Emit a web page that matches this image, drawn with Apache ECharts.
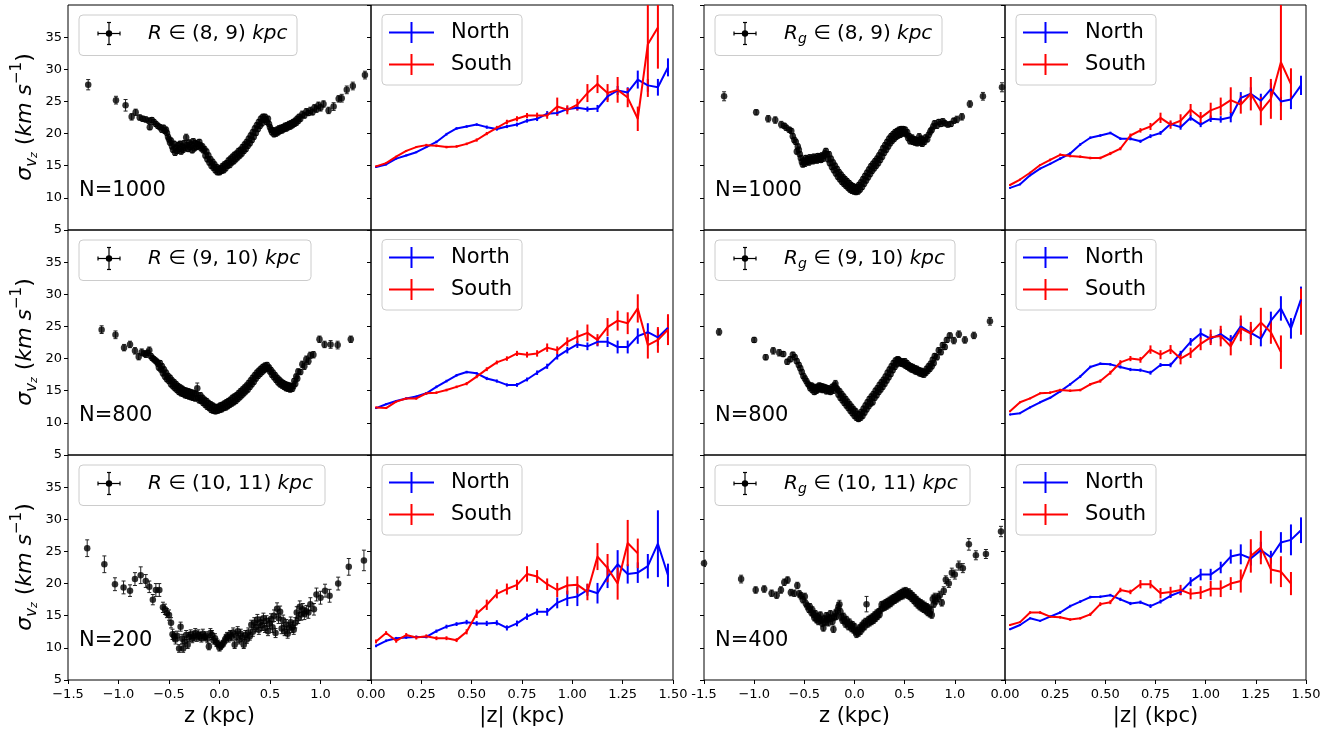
<!DOCTYPE html>
<html><head><meta charset="utf-8">
<script src="https://cdn.jsdelivr.net/npm/echarts@6/dist/echarts.min.js"></script>
<style>html,body{margin:0;padding:0;background:#fff}#c{width:1342px;height:734px}</style>
</head><body><div id="c"></div>
<script>
// ---------- DATA ----------
const yTicks = [5, 10, 15, 20, 25, 30, 35, 40];
const zTicks = [-1.5, -1.0, -0.5, 0.0, 0.5, 1.0, 1.5];
const absZTicks = [0, 0.25, 0.5, 0.75, 1.0, 1.25, 1.5];
const binLabelsR = ['(8, 9)', '(9, 10)', '(10, 11)'];
const binLabelsRg = ['(8, 9)', '(9, 10)', '(10, 11)'];
const nR = [1000, 800, 200];
const nRg = [1000, 800, 400];

// left-hand panels: [z, sigma, err]
const A1 = [[-1.30,27.6,0.8],[-1.025,25.2,0.6],[-0.93,24.4,0.9],[-0.87,22.6,0.5],[-0.83,23.3,0.5],[-0.79,22.5,0.4],[-0.76,22.3,0.4],[-0.73,22.2,0.4],[-0.70,22.0,0.4],[-0.69,21.0,0.4],[-0.67,22.1,0.4],[-0.65,21.8,0.4],[-0.63,21.5,0.4],[-0.61,21.2,0.4],[-0.59,21.0,0.4],[-0.57,20.6,0.4],[-0.555,20.9,0.4],[-0.54,20.4,0.4],[-0.53,20.6,0.4],[-0.52,20.1,0.4],[-0.51,19.5,0.4],[-0.50,19.1,0.4],[-0.49,18.6,0.4],[-0.48,18.9,0.4],[-0.47,18.0,0.4],[-0.46,17.5,0.4],[-0.45,18.4,0.4],[-0.44,17.0,0.4],[-0.43,17.8,0.4],[-0.42,17.3,0.4],[-0.41,18.2,0.4],[-0.40,17.6,0.4],[-0.39,18.4,0.4],[-0.38,17.2,0.4],[-0.37,18.0,0.4],[-0.36,17.5,0.4],[-0.35,18.5,0.4],[-0.34,17.8,0.4],[-0.33,19.4,0.5],[-0.32,18.2,0.4],[-0.31,17.6,0.4],[-0.30,18.6,0.4],[-0.29,17.9,0.4],[-0.28,18.3,0.4],[-0.27,17.4,0.4],[-0.26,18.8,0.4],[-0.25,17.7,0.4],[-0.24,18.5,0.4],[-0.23,17.9,0.4],[-0.22,18.4,0.4],[-0.21,18.0,0.4],[-0.20,18.7,0.4],[-0.19,18.2,0.4],[-0.18,17.7,0.4],[-0.17,18.0,0.4],[-0.16,17.4,0.4],[-0.15,17.6,0.4],[-0.14,16.6,0.4],[-0.13,17.2,0.4],[-0.12,16.0,0.4],[-0.11,16.6,0.4],[-0.10,15.5,0.4],[-0.09,16.0,0.4],[-0.08,15.0,0.4],[-0.07,15.6,0.4],[-0.06,14.7,0.4],[-0.05,15.2,0.4],[-0.04,14.3,0.4],[-0.03,14.8,0.4],[-0.02,14.0,0.4],[-0.01,14.5,0.4],[0.00,14.0,0.4],[0.01,14.6,0.4],[0.02,14.2,0.4],[0.03,14.9,0.4],[0.04,14.3,0.4],[0.05,15.2,0.4],[0.06,14.6,0.4],[0.07,15.4,0.4],[0.08,15.0,0.4],[0.09,15.8,0.4],[0.10,15.1,0.4],[0.11,16.1,0.4],[0.12,15.5,0.4],[0.13,16.4,0.4],[0.14,15.7,0.4],[0.15,16.7,0.4],[0.16,16.0,0.4],[0.17,16.9,0.4],[0.18,16.3,0.4],[0.19,17.3,0.4],[0.20,16.6,0.4],[0.21,17.5,0.4],[0.22,16.9,0.4],[0.23,17.9,0.4],[0.24,17.3,0.4],[0.25,18.3,0.4],[0.26,17.6,0.4],[0.27,18.7,0.4],[0.28,18.1,0.4],[0.29,19.2,0.4],[0.30,18.5,0.4],[0.31,19.7,0.4],[0.32,19.0,0.4],[0.33,20.2,0.4],[0.34,19.5,0.4],[0.35,20.8,0.4],[0.36,20.1,0.4],[0.37,21.3,0.4],[0.38,20.7,0.4],[0.39,21.8,0.4],[0.40,21.2,0.4],[0.41,22.3,0.4],[0.42,21.6,0.4],[0.43,22.6,0.4],[0.44,22.1,0.4],[0.45,22.6,0.4],[0.46,22.2,0.4],[0.47,21.8,0.4],[0.48,22.3,0.4],[0.49,21.5,0.4],[0.50,21.0,0.4],[0.51,20.6,0.4],[0.52,20.2,0.4],[0.53,20.5,0.4],[0.54,19.9,0.4],[0.55,20.3,0.4],[0.56,20.0,0.4],[0.57,20.6,0.4],[0.58,20.2,0.4],[0.59,20.8,0.4],[0.60,20.4,0.4],[0.61,20.9,0.4],[0.62,20.5,0.4],[0.63,21.0,0.4],[0.64,20.7,0.4],[0.65,21.2,0.4],[0.66,20.8,0.4],[0.67,21.3,0.4],[0.68,21.0,0.4],[0.69,21.5,0.4],[0.70,21.1,0.4],[0.71,21.6,0.4],[0.72,21.3,0.4],[0.73,21.8,0.4],[0.74,21.5,0.4],[0.75,22.0,0.4],[0.76,21.7,0.4],[0.77,22.3,0.4],[0.78,22.0,0.4],[0.79,22.6,0.4],[0.80,22.3,0.4],[0.82,23.0,0.5],[0.84,22.8,0.4],[0.86,23.4,0.5],[0.88,23.2,0.4],[0.90,23.6,0.5],[0.92,23.3,0.4],[0.94,24.0,0.5],[0.96,23.8,0.5],[0.98,24.4,0.5],[1.00,24.0,0.5],[1.03,24.6,0.5],[1.08,23.6,0.5],[1.13,24.2,0.6],[1.18,25.4,0.5],[1.21,25.5,0.6],[1.26,26.8,0.6],[1.32,27.4,0.6],[1.44,29.1,0.6]];

const A2 = [[-1.167,24.5,0.6],[-1.03,23.7,0.6],[-0.945,21.7,0.5],[-0.886,22.2,0.5],[-0.837,21.2,0.5],[-0.80,20.3,0.5],[-0.77,21.0,0.5],[-0.745,20.8,0.4],[-0.728,20.6,0.4],[-0.71,20.9,0.4],[-0.695,21.3,0.5],[-0.68,20.4,0.4],[-0.665,20.1,0.4],[-0.65,19.9,0.4],[-0.635,19.7,0.4],[-0.62,19.5,0.4],[-0.61,19.2,0.4],[-0.60,18.6,0.4],[-0.59,19.3,0.4],[-0.58,18.3,0.4],[-0.57,18.8,0.4],[-0.56,17.7,0.4],[-0.55,18.3,0.4],[-0.54,17.2,0.4],[-0.53,17.8,0.4],[-0.52,16.8,0.4],[-0.51,17.3,0.4],[-0.50,16.5,0.4],[-0.49,17.0,0.4],[-0.48,16.0,0.4],[-0.47,16.6,0.4],[-0.46,15.7,0.4],[-0.45,16.3,0.4],[-0.44,15.4,0.4],[-0.43,16.0,0.4],[-0.42,15.1,0.4],[-0.41,15.7,0.4],[-0.40,14.8,0.4],[-0.39,15.5,0.4],[-0.38,14.6,0.4],[-0.37,15.3,0.4],[-0.36,14.5,0.4],[-0.35,15.1,0.4],[-0.34,14.3,0.4],[-0.33,15.0,0.4],[-0.32,14.2,0.4],[-0.31,14.9,0.4],[-0.30,14.1,0.4],[-0.29,14.8,0.4],[-0.28,14.0,0.4],[-0.27,14.7,0.4],[-0.26,13.9,0.4],[-0.25,14.6,0.4],[-0.24,13.8,0.4],[-0.23,14.5,0.4],[-0.22,15.4,0.8],[-0.21,13.9,0.4],[-0.20,13.5,0.4],[-0.19,14.3,0.4],[-0.18,13.4,0.4],[-0.17,13.9,0.4],[-0.16,13.1,0.4],[-0.15,13.6,0.4],[-0.14,12.8,0.4],[-0.13,13.4,0.4],[-0.12,12.5,0.4],[-0.11,13.1,0.4],[-0.10,12.3,0.4],[-0.09,12.9,0.4],[-0.08,12.0,0.4],[-0.07,12.7,0.4],[-0.06,11.9,0.4],[-0.05,12.5,0.4],[-0.04,11.8,0.4],[-0.03,12.4,0.4],[-0.02,11.9,0.4],[-0.01,12.5,0.4],[0.00,12.0,0.4],[0.01,12.7,0.4],[0.02,12.1,0.4],[0.03,12.8,0.4],[0.04,12.3,0.4],[0.05,13.0,0.4],[0.06,12.4,0.4],[0.07,13.2,0.4],[0.08,12.6,0.4],[0.09,13.4,0.4],[0.10,12.8,0.4],[0.11,13.6,0.4],[0.12,13.0,0.4],[0.13,13.9,0.4],[0.14,13.2,0.4],[0.15,14.1,0.4],[0.16,13.4,0.4],[0.17,14.3,0.4],[0.18,13.7,0.4],[0.19,14.6,0.4],[0.20,14.0,0.4],[0.21,14.9,0.4],[0.22,14.3,0.4],[0.23,15.2,0.4],[0.24,14.6,0.4],[0.25,15.5,0.4],[0.26,14.9,0.4],[0.27,15.8,0.4],[0.28,15.2,0.4],[0.29,16.2,0.4],[0.30,15.6,0.4],[0.31,16.6,0.4],[0.32,16.0,0.4],[0.33,17.0,0.4],[0.34,16.4,0.4],[0.35,17.4,0.4],[0.36,16.9,0.4],[0.37,17.8,0.4],[0.38,17.3,0.4],[0.39,18.1,0.4],[0.40,17.6,0.4],[0.41,18.4,0.4],[0.42,17.9,0.4],[0.43,18.7,0.4],[0.44,18.2,0.4],[0.45,18.9,0.4],[0.46,18.4,0.4],[0.47,19.0,0.4],[0.48,18.5,0.4],[0.49,18.6,0.4],[0.50,18.0,0.4],[0.51,18.2,0.4],[0.52,17.5,0.4],[0.53,17.8,0.4],[0.54,17.1,0.4],[0.55,17.4,0.4],[0.56,16.7,0.4],[0.57,17.0,0.4],[0.58,16.3,0.4],[0.59,16.7,0.4],[0.60,16.0,0.4],[0.61,16.4,0.4],[0.62,15.8,0.4],[0.63,16.2,0.4],[0.64,15.6,0.4],[0.65,16.0,0.4],[0.66,15.4,0.4],[0.67,15.9,0.4],[0.68,15.3,0.4],[0.69,15.8,0.4],[0.70,15.2,0.4],[0.71,15.7,0.4],[0.72,15.3,0.4],[0.73,15.7,0.4],[0.74,16.5,0.4],[0.75,16.1,0.4],[0.76,17.2,0.4],[0.77,16.9,0.4],[0.78,18.0,0.4],[0.80,17.9,0.4],[0.82,19.1,0.5],[0.84,18.8,0.5],[0.86,19.9,0.5],[0.88,19.6,0.5],[0.90,20.5,0.5],[0.93,20.6,0.5],[0.99,23.0,0.5],[1.04,22.2,0.5],[1.10,22.2,0.6],[1.17,22.1,0.6],[1.30,23.0,0.5]];

const A3 = [[-1.31,25.5,1.3],[-1.14,23.0,1.3],[-1.035,19.9,1.0],[-0.95,19.4,1.0],[-0.886,18.9,0.9],[-0.837,20.7,1.0],[-0.78,21.3,1.3],[-0.73,20.4,1.0],[-0.695,19.5,0.9],[-0.66,17.5,0.8],[-0.63,19.0,1.0],[-0.596,19.0,1.0],[-0.56,16.3,0.8],[-0.54,16.0,0.8],[-0.52,15.4,0.7],[-0.50,15.1,0.8],[-0.48,13.9,0.8],[-0.465,12.1,0.8],[-0.45,11.8,0.7],[-0.435,11.3,0.7],[-0.42,11.9,0.7],[-0.40,9.9,0.6],[-0.385,13.3,0.7],[-0.37,11.4,0.7],[-0.36,9.9,0.6],[-0.345,11.0,0.7],[-0.33,12.0,0.7],[-0.315,10.5,0.6],[-0.30,11.7,0.7],[-0.285,12.1,0.7],[-0.27,11.4,0.6],[-0.255,11.8,0.7],[-0.24,12.3,0.7],[-0.225,11.6,0.6],[-0.21,12.1,0.7],[-0.195,11.8,0.6],[-0.18,11.5,0.6],[-0.165,12.2,0.7],[-0.15,11.7,0.6],[-0.135,11.9,0.6],[-0.12,11.4,0.6],[-0.105,10.2,0.5],[-0.09,12.3,0.7],[-0.075,12.0,0.7],[-0.06,11.2,0.6],[-0.045,11.5,0.7],[-0.03,10.8,0.6],[-0.015,10.6,0.6],[0.00,10.0,0.5],[0.015,10.3,0.5],[0.03,10.6,0.5],[0.045,10.9,0.6],[0.06,11.4,0.6],[0.075,11.8,0.6],[0.09,11.5,0.6],[0.105,12.1,0.6],[0.12,11.7,0.6],[0.135,12.4,0.7],[0.15,10.5,0.6],[0.165,11.9,0.6],[0.18,12.6,0.7],[0.195,11.2,0.6],[0.21,12.2,0.7],[0.225,11.6,0.6],[0.24,10.5,0.6],[0.255,12.0,0.7],[0.27,11.3,0.6],[0.285,12.4,0.7],[0.30,11.8,0.6],[0.315,13.6,0.7],[0.33,12.5,0.7],[0.345,13.9,0.8],[0.36,13.2,0.7],[0.375,14.4,0.8],[0.39,12.8,0.7],[0.405,14.0,0.8],[0.42,13.5,0.8],[0.435,14.6,0.8],[0.45,13.1,0.7],[0.465,14.2,0.8],[0.48,12.6,0.7],[0.495,13.8,0.8],[0.51,14.5,0.8],[0.525,13.2,0.8],[0.54,15.0,0.9],[0.555,12.3,0.7],[0.57,16.1,0.9],[0.585,14.6,0.8],[0.60,15.6,0.9],[0.615,13.0,0.8],[0.63,14.3,0.8],[0.645,12.6,0.7],[0.66,13.6,0.8],[0.675,12.2,0.7],[0.69,13.1,0.8],[0.705,14.0,0.8],[0.72,13.2,0.8],[0.735,12.8,0.7],[0.75,13.9,0.8],[0.765,15.5,0.9],[0.78,14.6,0.8],[0.795,16.4,0.9],[0.81,15.2,0.9],[0.825,16.0,0.9],[0.84,15.3,0.9],[0.86,15.7,0.9],[0.88,15.5,0.9],[0.90,16.8,1.0],[0.935,16.0,0.9],[0.96,18.3,1.0],[1.00,17.8,1.0],[1.045,18.9,1.0],[1.09,18.1,1.0],[1.175,20.0,1.0],[1.28,22.6,1.3],[1.43,23.6,1.6]];

const C1 = [[-1.30,25.8,0.7],[-0.98,23.3,0.4],[-0.86,22.3,0.5],[-0.79,22.1,0.5],[-0.73,21.4,0.5],[-0.70,21.2,0.4],[-0.68,20.9,0.4],[-0.65,20.6,0.4],[-0.63,20.4,0.4],[-0.615,19.6,0.4],[-0.60,19.0,0.4],[-0.585,18.7,0.4],[-0.575,17.2,0.4],[-0.565,18.0,0.4],[-0.555,17.5,0.4],[-0.545,16.8,0.4],[-0.535,16.2,0.4],[-0.525,15.6,0.4],[-0.515,15.2,0.4],[-0.505,15.8,0.4],[-0.495,15.3,0.4],[-0.485,16.2,0.4],[-0.475,15.6,0.4],[-0.465,16.0,0.4],[-0.455,15.5,0.4],[-0.445,16.3,0.4],[-0.435,15.8,0.4],[-0.425,16.1,0.4],[-0.415,15.7,0.4],[-0.405,16.4,0.4],[-0.395,15.9,0.4],[-0.385,16.2,0.4],[-0.375,15.8,0.4],[-0.365,16.5,0.4],[-0.355,16.0,0.4],[-0.345,16.4,0.4],[-0.335,15.9,0.4],[-0.325,16.6,0.4],[-0.315,16.1,0.4],[-0.305,16.5,0.4],[-0.295,16.9,0.4],[-0.285,17.3,0.4],[-0.275,16.8,0.4],[-0.265,16.0,0.4],[-0.255,16.8,0.4],[-0.245,15.4,0.4],[-0.235,16.1,0.4],[-0.225,14.8,0.4],[-0.215,15.5,0.4],[-0.205,14.3,0.4],[-0.195,15.0,0.4],[-0.185,13.8,0.4],[-0.175,14.5,0.4],[-0.165,13.3,0.4],[-0.155,14.0,0.4],[-0.145,12.9,0.4],[-0.135,13.6,0.4],[-0.125,12.5,0.4],[-0.115,13.2,0.4],[-0.105,12.2,0.4],[-0.095,12.9,0.4],[-0.085,11.9,0.4],[-0.075,12.6,0.4],[-0.065,11.6,0.4],[-0.055,12.3,0.4],[-0.045,11.3,0.4],[-0.035,12.0,0.4],[-0.025,11.1,0.4],[-0.015,11.8,0.4],[-0.005,11.0,0.4],[0.005,11.6,0.4],[0.015,10.9,0.4],[0.025,11.7,0.4],[0.035,11.0,0.4],[0.045,12.0,0.4],[0.055,11.3,0.4],[0.065,12.4,0.4],[0.075,11.7,0.4],[0.085,12.9,0.4],[0.095,12.2,0.4],[0.105,13.4,0.4],[0.115,12.7,0.4],[0.125,13.9,0.4],[0.135,13.2,0.4],[0.145,14.4,0.4],[0.155,13.7,0.4],[0.165,14.9,0.4],[0.175,14.2,0.4],[0.185,15.3,0.4],[0.195,14.6,0.4],[0.205,15.7,0.4],[0.215,15.0,0.4],[0.225,16.1,0.4],[0.235,15.4,0.4],[0.245,16.6,0.4],[0.255,15.9,0.4],[0.265,17.1,0.4],[0.275,16.4,0.4],[0.285,17.7,0.4],[0.295,17.0,0.4],[0.305,18.2,0.4],[0.315,17.5,0.4],[0.325,18.7,0.4],[0.335,18.0,0.4],[0.345,19.2,0.4],[0.355,18.5,0.4],[0.365,19.6,0.4],[0.375,18.9,0.4],[0.385,19.9,0.4],[0.395,19.2,0.4],[0.405,20.2,0.4],[0.415,19.5,0.4],[0.425,20.4,0.4],[0.435,19.7,0.4],[0.445,20.6,0.4],[0.455,19.8,0.4],[0.465,20.7,0.4],[0.475,20.0,0.4],[0.485,20.7,0.4],[0.495,20.1,0.4],[0.505,20.6,0.4],[0.515,19.9,0.4],[0.525,20.2,0.4],[0.535,19.3,0.4],[0.545,19.6,0.4],[0.555,18.8,0.4],[0.565,19.1,0.4],[0.575,19.3,0.5],[0.585,18.7,0.4],[0.595,19.1,0.4],[0.605,18.6,0.4],[0.615,19.0,0.4],[0.625,18.5,0.4],[0.635,18.9,0.4],[0.645,19.5,0.5],[0.655,18.6,0.4],[0.665,19.2,0.4],[0.675,18.4,0.4],[0.685,19.0,0.4],[0.695,18.7,0.4],[0.71,19.4,0.4],[0.725,19.1,0.4],[0.74,19.8,0.4],[0.755,20.3,0.5],[0.77,20.6,0.4],[0.785,21.1,0.4],[0.80,21.6,0.4],[0.82,21.2,0.4],[0.84,21.8,0.4],[0.86,21.5,0.4],[0.88,21.9,0.4],[0.90,21.6,0.4],[0.93,21.4,0.4],[0.96,21.5,0.4],[0.99,22.0,0.4],[1.02,22.2,0.5],[1.07,22.6,0.5],[1.15,24.6,0.5],[1.28,25.8,0.6],[1.47,27.2,0.7]];

const C2 = [[-1.35,24.15,0.5],[-1.00,22.9,0.4],[-0.885,20.2,0.4],[-0.81,21.2,0.5],[-0.75,20.9,0.5],[-0.71,20.7,0.4],[-0.67,19.5,0.4],[-0.64,19.9,0.4],[-0.615,20.6,0.4],[-0.595,20.2,0.4],[-0.575,19.6,0.4],[-0.555,19.0,0.4],[-0.54,18.5,0.4],[-0.525,17.9,0.4],[-0.51,17.3,0.4],[-0.495,16.9,0.4],[-0.48,16.5,0.4],[-0.465,16.1,0.4],[-0.45,15.8,0.4],[-0.44,15.4,0.4],[-0.43,15.8,0.4],[-0.42,15.1,0.4],[-0.41,15.6,0.4],[-0.40,14.8,0.4],[-0.39,15.4,0.4],[-0.38,15.0,0.4],[-0.37,15.6,0.4],[-0.36,15.2,0.4],[-0.35,15.8,0.4],[-0.34,15.3,0.4],[-0.33,15.7,0.4],[-0.32,15.1,0.4],[-0.31,15.6,0.4],[-0.30,15.2,0.4],[-0.29,15.5,0.4],[-0.28,14.9,0.4],[-0.27,15.4,0.4],[-0.26,15.0,0.4],[-0.25,15.3,0.4],[-0.24,14.8,0.4],[-0.23,15.2,0.4],[-0.22,15.6,0.4],[-0.21,15.0,0.4],[-0.20,15.8,0.4],[-0.19,16.1,0.5],[-0.18,15.4,0.4],[-0.17,15.2,0.4],[-0.16,14.4,0.4],[-0.15,14.9,0.4],[-0.14,13.9,0.4],[-0.13,14.5,0.4],[-0.12,13.5,0.4],[-0.11,14.1,0.4],[-0.10,13.1,0.4],[-0.09,13.7,0.4],[-0.08,12.7,0.4],[-0.07,13.3,0.4],[-0.06,12.3,0.4],[-0.05,12.9,0.4],[-0.04,11.9,0.4],[-0.03,12.5,0.4],[-0.02,11.5,0.4],[-0.01,12.1,0.4],[0.00,11.1,0.4],[0.01,11.8,0.4],[0.02,10.8,0.4],[0.03,11.4,0.4],[0.04,10.6,0.4],[0.05,11.3,0.4],[0.06,10.8,0.4],[0.07,11.7,0.4],[0.08,11.1,0.4],[0.09,12.2,0.4],[0.10,11.6,0.4],[0.11,12.7,0.4],[0.12,12.1,0.4],[0.13,13.2,0.4],[0.14,12.6,0.4],[0.15,13.7,0.4],[0.16,13.0,0.4],[0.17,14.1,0.4],[0.18,13.2,0.4],[0.19,14.5,0.4],[0.20,13.9,0.4],[0.21,15.0,0.4],[0.22,14.3,0.4],[0.23,15.4,0.4],[0.24,14.8,0.4],[0.25,15.9,0.4],[0.26,15.2,0.4],[0.27,16.3,0.4],[0.28,15.6,0.4],[0.29,16.7,0.4],[0.30,16.1,0.4],[0.31,17.2,0.4],[0.32,16.6,0.4],[0.33,17.8,0.4],[0.34,17.1,0.4],[0.35,18.3,0.4],[0.36,17.6,0.4],[0.37,18.8,0.4],[0.38,18.2,0.4],[0.39,19.3,0.4],[0.40,18.7,0.4],[0.41,19.7,0.4],[0.42,19.1,0.4],[0.43,19.9,0.4],[0.44,19.8,0.4],[0.45,19.3,0.4],[0.46,19.6,0.4],[0.47,19.2,0.4],[0.48,19.5,0.4],[0.49,19.1,0.4],[0.50,19.6,0.4],[0.51,18.9,0.4],[0.52,19.3,0.4],[0.53,18.7,0.4],[0.54,19.0,0.4],[0.55,18.5,0.4],[0.56,18.8,0.4],[0.57,18.3,0.4],[0.58,18.7,0.4],[0.59,18.2,0.4],[0.60,18.5,0.4],[0.61,18.0,0.4],[0.62,18.4,0.4],[0.63,17.9,0.4],[0.64,18.2,0.4],[0.65,17.7,0.4],[0.66,18.1,0.4],[0.67,17.6,0.4],[0.68,18.0,0.4],[0.69,17.5,0.4],[0.70,17.9,0.4],[0.71,17.8,0.4],[0.72,18.4,0.4],[0.73,18.1,0.4],[0.74,18.8,0.4],[0.75,18.4,0.4],[0.76,19.2,0.4],[0.77,18.8,0.4],[0.78,19.8,0.4],[0.79,19.3,0.4],[0.80,20.4,0.4],[0.82,20.2,0.4],[0.84,21.3,0.4],[0.86,21.0,0.4],[0.88,22.1,0.4],[0.90,21.8,0.4],[0.92,22.9,0.4],[0.95,23.6,0.4],[0.99,22.8,0.5],[1.04,23.8,0.5],[1.10,22.9,0.5],[1.19,23.6,0.5],[1.35,25.8,0.6]];

const C3 = [[-1.50,23.15,0.5],[-1.13,20.7,0.6],[-0.985,19.0,0.5],[-0.90,19.15,0.5],[-0.826,18.5,0.5],[-0.776,18.2,0.5],[-0.733,19.0,0.5],[-0.70,20.2,0.5],[-0.667,20.55,0.5],[-0.634,18.6,0.5],[-0.60,18.5,0.5],[-0.57,19.7,0.5],[-0.55,18.4,0.5],[-0.535,18.1,0.5],[-0.515,17.5,0.5],[-0.495,18.0,0.5],[-0.485,16.9,0.5],[-0.47,16.5,0.5],[-0.455,16.0,0.5],[-0.445,16.4,0.5],[-0.43,15.5,0.5],[-0.42,15.9,0.5],[-0.41,15.2,0.5],[-0.40,14.7,0.5],[-0.39,15.3,0.5],[-0.38,14.4,0.5],[-0.37,14.9,0.5],[-0.36,14.1,0.5],[-0.35,14.6,0.5],[-0.34,15.1,0.5],[-0.33,14.3,0.5],[-0.32,13.8,0.5],[-0.31,13.1,0.5],[-0.30,14.5,0.5],[-0.29,14.0,0.5],[-0.28,15.0,0.5],[-0.27,14.4,0.5],[-0.26,13.9,0.5],[-0.25,14.7,0.5],[-0.24,15.3,0.5],[-0.23,14.6,0.5],[-0.22,14.1,0.5],[-0.21,12.9,0.5],[-0.20,14.8,0.5],[-0.19,15.4,0.5],[-0.18,14.9,0.5],[-0.17,15.8,0.5],[-0.16,16.4,0.6],[-0.15,16.8,0.6],[-0.14,15.6,0.5],[-0.13,14.8,0.5],[-0.12,14.3,0.5],[-0.11,14.9,0.5],[-0.10,14.2,0.5],[-0.09,13.7,0.5],[-0.08,14.4,0.5],[-0.07,13.8,0.5],[-0.06,13.3,0.5],[-0.05,14.0,0.5],[-0.04,13.5,0.5],[-0.03,13.0,0.5],[-0.02,13.6,0.5],[-0.01,12.8,0.5],[0.00,13.3,0.5],[0.01,12.5,0.5],[0.02,12.1,0.5],[0.03,12.7,0.5],[0.04,12.3,0.5],[0.05,13.1,0.5],[0.06,12.6,0.5],[0.07,13.4,0.5],[0.08,13.0,0.5],[0.09,13.8,0.5],[0.10,13.3,0.5],[0.11,14.1,0.5],[0.12,16.8,1.2],[0.13,13.7,0.5],[0.14,14.4,0.5],[0.15,13.9,0.5],[0.16,14.6,0.5],[0.17,14.1,0.5],[0.18,14.8,0.5],[0.19,14.3,0.5],[0.20,15.1,0.5],[0.21,14.6,0.5],[0.22,15.4,0.5],[0.23,14.9,0.5],[0.24,15.6,0.5],[0.25,15.2,0.5],[0.26,15.9,0.5],[0.27,16.7,0.5],[0.28,16.2,0.5],[0.29,16.8,0.5],[0.30,16.3,0.5],[0.31,17.0,0.5],[0.32,16.5,0.5],[0.33,17.2,0.5],[0.34,16.7,0.5],[0.35,17.4,0.5],[0.36,16.9,0.5],[0.37,17.6,0.5],[0.38,17.2,0.5],[0.39,17.8,0.5],[0.40,17.4,0.5],[0.41,18.0,0.5],[0.42,17.6,0.5],[0.43,18.2,0.5],[0.44,17.8,0.5],[0.45,18.4,0.5],[0.46,18.0,0.5],[0.47,18.6,0.5],[0.48,18.1,0.5],[0.49,18.8,0.5],[0.50,18.3,0.5],[0.51,18.9,0.5],[0.52,18.5,0.5],[0.53,18.2,0.5],[0.54,18.7,0.5],[0.55,18.0,0.5],[0.56,18.4,0.5],[0.57,17.7,0.5],[0.58,18.1,0.5],[0.59,17.4,0.5],[0.60,17.8,0.5],[0.61,17.0,0.5],[0.62,17.5,0.5],[0.63,16.7,0.5],[0.64,17.2,0.5],[0.65,16.4,0.5],[0.66,17.0,0.5],[0.67,16.2,0.5],[0.68,16.8,0.5],[0.69,16.0,0.5],[0.70,16.6,0.5],[0.71,15.8,0.5],[0.72,16.4,0.5],[0.73,15.5,0.5],[0.74,16.2,0.5],[0.75,15.3,0.5],[0.76,15.9,0.5],[0.77,15.1,0.5],[0.78,17.6,0.6],[0.79,16.8,0.5],[0.80,17.9,0.6],[0.81,17.3,0.5],[0.83,17.8,0.6],[0.85,18.2,0.6],[0.87,17.0,0.5],[0.89,18.9,0.6],[0.91,20.6,0.6],[0.94,20.0,0.6],[0.97,21.7,0.7],[1.00,21.4,0.7],[1.04,22.8,0.7],[1.08,22.4,0.7],[1.14,26.1,0.9],[1.21,24.4,0.7],[1.31,24.6,0.7],[1.46,28.1,0.8]];

// right-hand panels (|z| bins)
const zAbs = [0.025,0.075,0.125,0.175,0.225,0.275,0.325,0.375,0.425,0.475,0.525,0.575,0.625,0.675,0.725,0.775,0.825,0.875,0.925,0.975,1.025,1.075,1.125,1.175,1.225,1.275,1.325,1.375,1.425,1.475];

const B1N  = [14.8,15.2,16.1,16.6,17.1,17.9,18.7,19.9,20.8,21.1,21.4,21.0,20.7,21.1,21.4,22.0,22.3,23.1,23.2,23.8,24.0,23.8,23.9,25.8,26.7,26.4,28.4,27.5,27.2,30.3];
const B1Ne = [0.15,0.15,0.15,0.15,0.15,0.15,0.2,0.2,0.2,0.2,0.2,0.25,0.25,0.25,0.3,0.3,0.35,0.4,0.4,0.4,0.4,0.4,0.55,0.6,0.7,0.8,1.4,1.0,1.3,1.4];
const B1S  = [14.9,15.4,16.4,17.3,17.9,18.2,18.1,17.9,18.0,18.4,19.0,20.0,20.9,21.8,22.3,22.8,22.8,22.8,24.2,23.7,24.5,26.3,27.7,26.3,26.8,25.6,22.3,33.9,36.5,null];
const B1Se = [0.15,0.15,0.15,0.15,0.15,0.2,0.2,0.2,0.2,0.2,0.25,0.25,0.3,0.35,0.4,0.4,0.45,0.5,1.4,0.7,0.9,1.4,1.4,1.4,2.0,1.5,1.9,8.2,6.4,null];

const B2N  = [12.3,12.9,13.4,13.8,14.1,14.6,15.6,16.5,17.4,17.9,17.7,16.9,16.5,15.9,15.9,16.75,17.8,18.8,20.3,21.3,22.2,21.9,22.6,22.6,21.8,21.8,23.5,24.1,23.3,24.8];
const B2Ne = [0.15,0.15,0.15,0.15,0.15,0.2,0.2,0.2,0.2,0.2,0.2,0.25,0.25,0.25,0.3,0.3,0.35,0.4,0.45,0.5,0.55,0.6,0.7,0.8,1.0,1.0,1.2,1.4,1.3,1.6];
const B2S  = [12.4,12.3,13.3,13.8,13.8,14.6,14.7,15.1,15.6,16.1,17.2,18.35,19.4,20.0,20.8,20.6,20.8,21.7,21.3,22.6,23.4,24.0,22.9,24.9,25.9,25.5,27.8,22.1,22.9,24.5];
const B2Se = [0.15,0.15,0.15,0.15,0.2,0.2,0.2,0.2,0.2,0.25,0.25,0.3,0.3,0.35,0.4,0.45,0.5,0.65,0.6,0.7,1.0,1.3,0.9,1.4,1.55,1.7,2.2,2.1,2.0,2.4];

const B3N  = [10.3,11.1,11.5,11.6,11.7,11.7,12.6,13.3,13.7,14.0,13.8,13.8,13.9,13.1,13.8,14.85,15.6,15.6,17.0,17.7,18.0,19.0,18.5,21.0,23.0,21.5,21.7,22.7,26.2,21.3];
const B3Ne = [0.2,0.2,0.2,0.2,0.2,0.2,0.25,0.3,0.3,0.35,0.35,0.4,0.4,0.4,0.45,0.5,0.5,0.6,0.85,1.2,1.5,0.9,1.6,1.7,2.2,1.5,1.6,1.9,5.2,1.8];
const B3S  = [11.0,12.3,11.1,12.0,11.6,11.8,11.5,11.5,11.2,12.5,15.3,16.7,18.4,19.15,19.8,21.5,21.1,19.9,19.0,19.7,19.8,18.7,24.2,22.4,20.0,26.3,24.7,null,null,null];
const B3Se = [0.3,0.3,0.3,0.3,0.3,0.3,0.3,0.3,0.3,0.4,0.65,0.8,0.7,0.85,0.8,1.2,1.0,0.9,1.1,1.4,1.35,1.3,2.1,2.2,2.5,3.6,2.3,null,null,null];

const D1N  = [11.55,12.1,13.5,14.55,15.3,16.1,16.9,18.3,19.35,19.7,20.1,19.2,19.2,18.8,19.6,20.1,21.5,21.0,22.45,21.4,22.3,22.2,22.55,25.55,26.2,25.1,26.9,25.0,25.3,27.5];
const D1Ne = [0.15,0.15,0.15,0.15,0.15,0.2,0.2,0.2,0.2,0.2,0.2,0.2,0.25,0.25,0.3,0.3,0.35,0.4,0.45,0.4,0.5,0.5,0.8,0.9,1.0,1.1,1.0,0.7,1.5,1.5];
const D1S  = [12.0,12.85,13.9,15.1,15.9,16.7,16.5,16.4,16.2,16.2,16.9,17.65,19.7,20.5,21.1,22.45,21.4,22.0,23.7,22.45,23.6,24.2,25.2,24.5,26.2,23.5,25.4,31.1,27.7,null];
const D1Se = [0.15,0.15,0.15,0.15,0.2,0.2,0.2,0.2,0.2,0.2,0.25,0.25,0.3,0.35,0.55,0.8,0.65,1.0,0.9,0.9,1.2,1.4,2.0,1.4,2.6,2.2,3.1,9.0,2.45,null];

const D2N  = [11.3,11.5,12.4,13.2,13.9,14.9,16.0,17.2,18.7,19.2,19.1,18.7,18.3,18.2,17.8,19.0,19.0,20.8,22.6,23.9,23.1,23.8,22.75,25.0,24.0,23.1,25.9,27.8,24.7,29.2];
const D2Ne = [0.15,0.15,0.15,0.15,0.15,0.2,0.2,0.2,0.2,0.2,0.2,0.25,0.25,0.25,0.3,0.3,0.35,0.4,0.6,0.8,0.7,0.8,0.9,1.2,1.0,1.2,1.4,1.9,1.6,2.0];
const D2S  = [11.8,13.2,13.8,14.6,14.7,15.1,15.0,15.1,16.0,16.5,17.8,19.4,20.0,19.8,21.4,20.6,21.4,20.0,20.9,22.3,23.3,23.5,21.9,24.7,23.9,25.6,24.1,21.0,null,27.3];
const D2Se = [0.15,0.15,0.15,0.15,0.2,0.2,0.2,0.2,0.2,0.25,0.3,0.35,0.4,0.45,0.65,0.7,0.7,0.9,0.8,1.0,1.2,1.6,1.4,2.0,1.8,2.3,1.8,2.6,null,3.6];

const D3N  = [12.9,13.55,14.6,14.2,14.85,15.5,16.5,17.2,17.9,17.95,18.2,17.55,16.9,17.1,16.5,17.2,18.1,18.7,20.3,21.4,21.4,22.5,24.2,24.55,23.9,25.2,24.1,26.4,26.8,28.3];
const D3Ne = [0.15,0.15,0.15,0.15,0.15,0.2,0.2,0.2,0.2,0.2,0.2,0.25,0.25,0.25,0.3,0.3,0.35,0.5,0.7,0.9,0.9,0.9,1.1,1.55,1.1,1.3,1.0,1.6,2.4,2.0];
const D3S  = [13.55,14.0,15.5,15.5,14.85,14.75,14.4,14.6,15.2,16.8,17.1,19.0,18.7,19.9,19.9,18.5,18.7,19.0,18.4,18.6,19.2,19.2,20.0,20.4,24.3,25.6,22.2,21.85,20.0,null];
const D3Se = [0.15,0.15,0.2,0.2,0.2,0.2,0.2,0.2,0.25,0.3,0.3,0.35,0.35,0.65,0.65,0.8,0.8,0.8,0.85,1.0,1.2,1.3,1.0,1.8,2.6,2.6,2.2,2.4,1.8,null];

// ---------- LAYOUT ----------
const FONT = 'DejaVu Sans';
const colLeft = [68, 371, 704, 1005];
const colW = [303, 302, 301, 301];
const rowTop = [5, 230, 455];
const rowH = 225;
const legendWidthR = [218, 232, 246];
const legendWidthRg = [227, 240, 255];

const leftData = [[A1, C1], [A2, C2], [A3, C3]];
const rightData = [
  [[B1N, B1Ne, B1S, B1Se], [D1N, D1Ne, D1S, D1Se]],
  [[B2N, B2Ne, B2S, B2Se], [D2N, D2Ne, D2S, D2Se]],
  [[B3N, B3Ne, B3S, B3Se], [D3N, D3Ne, D3S, D3Se]]
];

const grids = [], xAxes = [], yAxes = [], series = [], graphics = [];
const fmtZ = (c) => (v) => {
  const s = Math.abs(v).toFixed(1);
  if (v < 0) return (c === 2 && v === -1.5 ? '-' : '\u2212') + s;
  return s;
};
const fmtAbs = (v) => v.toFixed(2);

function errRender(color, lw, cap) {
  return function (params, api) {
    const x = api.value(0), y = api.value(1), e = api.value(2);
    const p1 = api.coord([x, y - e]), p2 = api.coord([x, y + e]);
    const st = { stroke: color, lineWidth: lw };
    const ch = [{ type: 'line', shape: { x1: p1[0], y1: p1[1], x2: p2[0], y2: p2[1] }, style: st }];
    if (cap) {
      ch.push({ type: 'line', shape: { x1: p1[0] - cap, y1: p1[1], x2: p1[0] + cap, y2: p1[1] }, style: st });
      ch.push({ type: 'line', shape: { x1: p2[0] - cap, y1: p2[1], x2: p2[0] + cap, y2: p2[1] }, style: st });
    }
    return { type: 'group', children: ch };
  };
}

for (let r = 0; r < 3; r++) {
  for (let c = 0; c < 4; c++) {
    const idx = grids.length;
    grids.push({ left: colLeft[c], top: rowTop[r], width: colW[c], height: rowH, show: true,
      borderColor: '#000', borderWidth: 1, backgroundColor: 'transparent', containLabel: false });
    const isZ = (c === 0 || c === 2);
    const xt = isZ ? zTicks : absZTicks;
    xAxes.push({ gridIndex: idx, type: 'value', position: 'bottom', min: xt[0], max: xt[xt.length - 1], interval: xt[1] - xt[0],
      axisLine: { show: false, onZero: false }, splitLine: { show: false },
      axisTick: { show: r === 2, length: 4, lineStyle: { color: '#000' } },
      axisLabel: { show: r === 2, fontSize: 13, fontFamily: FONT, color: '#000', margin: 8,
        showMaxLabel: !isZ, showMinLabel: true, formatter: isZ ? fmtZ(c) : fmtAbs } });
    yAxes.push({ gridIndex: idx, type: 'value', position: 'left', min: yTicks[0], max: yTicks[yTicks.length - 1], interval: yTicks[1] - yTicks[0],
      axisLine: { show: false, onZero: false }, splitLine: { show: false },
      axisTick: { show: true, length: 4, lineStyle: { color: '#000' } },
      axisLabel: { show: c === 0, showMaxLabel: false, fontSize: 13, fontFamily: FONT, color: '#000', margin: 6 } });

    if (isZ) {
      const pts = leftData[r][c === 0 ? 0 : 1];
      series.push({ type: 'custom', xAxisIndex: idx, yAxisIndex: idx, clip: true, silent: true,
        renderItem: errRender('#222', 1, 2), data: pts, z: 2 });
      series.push({ type: 'scatter', xAxisIndex: idx, yAxisIndex: idx, silent: true, symbolSize: 6.5,
        itemStyle: { color: '#000' }, data: pts.map(p => [p[0], p[1]]), z: 3 });
    } else {
      const [N, Ne, S, Se] = rightData[r][c === 1 ? 0 : 1];
      const add = (vals, errs, color) => {
        series.push({ type: 'line', xAxisIndex: idx, yAxisIndex: idx, silent: true, showSymbol: false,
          connectNulls: false, lineStyle: { color: color, width: 2 }, itemStyle: { color: color },
          data: zAbs.map((z, i) => [z, vals[i]]), z: 2 });
        series.push({ type: 'custom', xAxisIndex: idx, yAxisIndex: idx, clip: true, silent: true,
          renderItem: errRender(color, 2, 0),
          data: zAbs.map((z, i) => [z, vals[i], errs[i]]).filter(d => d[1] !== null), z: 2 });
      };
      add(N, Ne, '#0000ff');
      add(S, Se, '#ff0000');
    }
  }
}

// ---------- GRAPHICS (labels, legends) ----------
const Z = 100;
for (let r = 0; r < 3; r++) {
  const t = rowTop[r];
  graphics.push({ type: 'text', x: 25, y: t + 112, rotation: Math.PI / 2, z: Z,
    style: { text: '{s|σ}{b|v}{c|z}{a| (}{i|km s}{d|\u22121}{a|)}', align: 'center', verticalAlign: 'middle', fill: '#000',
      fontFamily: FONT, fontSize: 22,
      rich: {
        s: { fontFamily: FONT, fontSize: 22, fontStyle: 'italic', lineHeight: 30 },
        a: { fontFamily: FONT, fontSize: 22, lineHeight: 30 },
        i: { fontFamily: FONT, fontSize: 22, fontStyle: 'italic', lineHeight: 30 },
        b: { fontFamily: FONT, fontSize: 15, fontStyle: 'italic', lineHeight: 15, verticalAlign: 'bottom' },
        c: { fontFamily: FONT, fontSize: 11, fontStyle: 'italic', lineHeight: 8, verticalAlign: 'bottom' },
        d: { fontFamily: FONT, fontSize: 15, lineHeight: 12, verticalAlign: 'top' }
      } } });
  for (const c of [0, 2]) {
    const L = colLeft[c];
    const w = c === 0 ? legendWidthR[r] : legendWidthRg[r];
    const bin = c === 0 ? binLabelsR[r] : binLabelsRg[r];
    graphics.push({ type: 'rect', z: Z, shape: { x: L + 11, y: t + 10, width: w, height: 40.5, r: 4 },
      style: { fill: 'rgba(255,255,255,0.8)', stroke: '#cccccc', lineWidth: 1 } });
    const cx = L + 41, cy = t + 28.5;
    const st = { stroke: '#000', lineWidth: 1.2 };
    graphics.push({ type: 'line', z: Z + 1, shape: { x1: cx - 11, y1: cy, x2: cx + 11, y2: cy }, style: st });
    graphics.push({ type: 'line', z: Z + 1, shape: { x1: cx, y1: cy - 11, x2: cx, y2: cy + 11 }, style: st });
    graphics.push({ type: 'line', z: Z + 1, shape: { x1: cx - 2, y1: cy - 11, x2: cx + 2, y2: cy - 11 }, style: st });
    graphics.push({ type: 'line', z: Z + 1, shape: { x1: cx - 2, y1: cy + 11, x2: cx + 2, y2: cy + 11 }, style: st });
    graphics.push({ type: 'line', z: Z + 1, shape: { x1: cx - 11, y1: cy - 2, x2: cx - 11, y2: cy + 2 }, style: st });
    graphics.push({ type: 'line', z: Z + 1, shape: { x1: cx + 11, y1: cy - 2, x2: cx + 11, y2: cy + 2 }, style: st });
    graphics.push({ type: 'circle', z: Z + 1, shape: { cx: cx, cy: cy, r: 3.2 }, style: { fill: '#000' } });
    const lbl = c === 0 ? '{i|R} \u2208 ' + bin + ' {i|kpc}' : '{i|R}{g|g} \u2208 ' + bin + ' {i|kpc}';
    graphics.push({ type: 'text', z: Z + 1, x: L + 80, y: cy,
      style: { text: lbl, fill: '#000', fontFamily: FONT, fontSize: 20, verticalAlign: 'middle', align: 'left',
        rich: {
          i: { fontFamily: FONT, fontSize: 20, fontStyle: 'italic', lineHeight: 26 },
          g: { fontFamily: FONT, fontSize: 14, fontStyle: 'italic', lineHeight: 16, verticalAlign: 'bottom' }
        } } });
    graphics.push({ type: 'text', z: Z + 1, x: L + 11, y: t + 186,
      style: { text: 'N=' + (c === 0 ? nR[r] : nRg[r]), fill: '#000', fontFamily: FONT, fontSize: 21,
        verticalAlign: 'middle', align: 'left' } });
  }
  for (const c of [1, 3]) {
    const L = colLeft[c];
    graphics.push({ type: 'rect', z: Z, shape: { x: L + 11, y: t + 9.5, width: 140, height: 70.5, r: 4 },
      style: { fill: 'rgba(255,255,255,0.8)', stroke: '#cccccc', lineWidth: 1 } });
    const entries = [['North', '#0000ff', t + 27.5], ['South', '#ff0000', t + 59.5]];
    for (const [name, col, yy] of entries) {
      graphics.push({ type: 'line', z: Z + 1, shape: { x1: L + 18, y1: yy, x2: L + 63, y2: yy }, style: { stroke: col, lineWidth: 2 } });
      graphics.push({ type: 'line', z: Z + 1, shape: { x1: L + 40.5, y1: yy - 10.5, x2: L + 40.5, y2: yy + 10.5 }, style: { stroke: col, lineWidth: 2 } });
      graphics.push({ type: 'text', z: Z + 1, x: L + 80, y: yy,
        style: { text: name, fill: '#000', fontFamily: FONT, fontSize: 21, verticalAlign: 'middle', align: 'left' } });
    }
  }
}
const xTitles = [['z (kpc)', 0], ['|z| (kpc)', 1], ['z (kpc)', 2], ['|z| (kpc)', 3]];
for (const [txt, c] of xTitles) {
  graphics.push({ type: 'text', z: Z, x: colLeft[c] + colW[c] / 2, y: 717,
    style: { text: txt, fill: '#000', fontFamily: FONT, fontSize: 21, align: 'center', verticalAlign: 'middle' } });
}

const chart = echarts.init(document.getElementById('c'), null, { renderer: 'canvas' });
chart.setOption({
  animation: false,
  backgroundColor: '#ffffff',
  textStyle: { fontFamily: FONT },
  grid: grids, xAxis: xAxes, yAxis: yAxes, series: series,
  graphic: { elements: graphics }
});
</script>
</body></html>
